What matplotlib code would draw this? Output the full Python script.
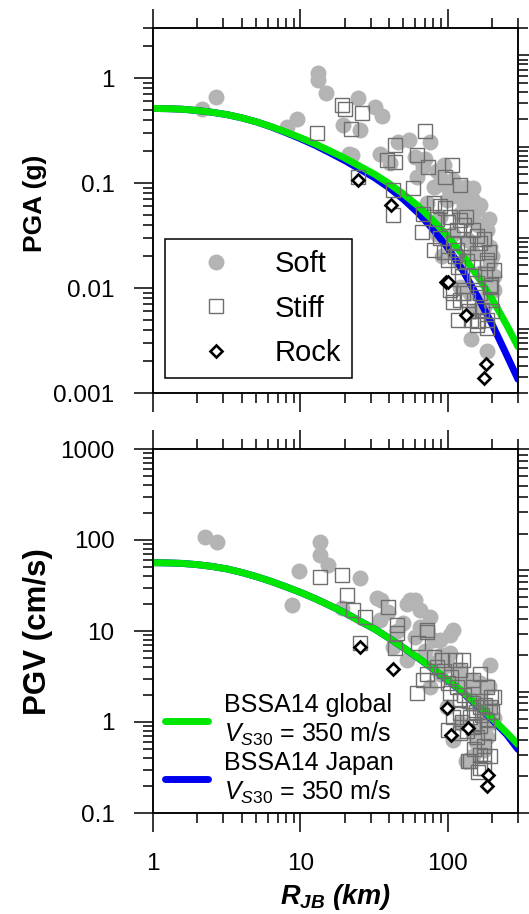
import numpy as np
import matplotlib
matplotlib.use("Agg")
import matplotlib.pyplot as plt
from matplotlib.ticker import LogLocator, NullFormatter

plt.rcParams["font.family"] = "Liberation Sans"
plt.rcParams["mathtext.fontset"] = "custom"
plt.rcParams["mathtext.rm"] = "Liberation Sans"
plt.rcParams["mathtext.it"] = "Liberation Sans:italic"
plt.rcParams["mathtext.bf"] = "Liberation Sans:bold"
try:
    plt.rcParams["mathtext.bfit"] = "Liberation Sans:italic:bold"
except KeyError:
    pass

# ---- model curves (BSSA14, Vs30 = 350 m/s) ----
R_CURVE = [1, 1.26, 1.58, 2, 2.5, 3.2, 4, 5, 6.3, 7.9, 10, 12.6, 15.8, 20, 25, 32, 40,
           50, 63, 79, 100, 126, 158, 200, 251, 300]
PGA_GLOBAL = [0.514, 0.511, 0.505, 0.491, 0.473, 0.448, 0.418, 0.384, 0.346, 0.308, 0.271,
              0.236, 0.203, 0.173, 0.146, 0.121, 0.0989, 0.0787, 0.0604, 0.0445, 0.0312,
              0.0208, 0.0132, 0.00787, 0.00446, 0.00276]
PGA_JAPAN = [0.514, 0.511, 0.505, 0.491, 0.473, 0.448, 0.418, 0.384, 0.344, 0.304, 0.265,
             0.229, 0.195, 0.164, 0.137, 0.112, 0.0902, 0.0701, 0.052, 0.0366, 0.0242,
             0.0149, 0.00849, 0.00453, 0.00231, 0.00135]
PGV_GLOBAL = [56.4, 56.0, 55.3, 53.6, 51.3, 48.0, 44.0, 39.7, 35.2, 30.8, 26.6, 22.7, 19.1,
              15.9, 13.0, 10.5, 8.34, 6.58, 5.08, 3.89, 2.92, 2.16, 1.56, 1.10, 0.766, 0.566]
PGV_JAPAN = [56.4, 56.0, 55.3, 53.6, 51.3, 48.0, 44.0, 39.7, 35.2, 30.8, 26.6, 22.7, 19.1,
             15.9, 13.0, 10.5, 8.34, 6.56, 5.05, 3.86, 2.88, 2.12, 1.52, 1.06, 0.73, 0.50]

# ---- recordings: PGA (g) ----
PGA_SOFT_R = [2.14, 2.66, 8.1, 9.45, 13.2, 13.2, 14.9, 19.6, 21.5, 22.3, 24.8, 25.4, 32.1,
              35.7, 34.8, 40.6, 46.3, 54.2, 60.1, 68.4, 75.9, 61.7, 72, 80.2, 88.8, 98.5,
              109, 109, 121, 121, 121, 131, 138, 142, 145, 149, 149, 157, 166, 175, 184,
              184, 194, 194, 198, 206, 149, 166, 121, 84.5, 92,
              70, 85, 95, 100, 115, 130, 140, 160, 175, 190, 200, 205, 180, 150, 90]
PGA_SOFT = [0.51, 0.66, 0.34, 0.41, 1.11, 0.96, 0.72, 0.36, 0.19, 0.185, 0.64, 0.32, 0.53,
            0.44, 0.19, 0.154, 0.247, 0.256, 0.178, 0.143, 0.247, 0.115, 0.064, 0.092, 0.048,
            0.069, 0.107, 0.033, 0.051, 0.0172, 0.0103, 0.092, 0.0287, 0.0089, 0.0033, 0.069,
            0.0214, 0.055, 0.0138, 0.0066, 0.0357, 0.0025, 0.0247, 0.0172, 0.0119, 0.0096,
            0.09, 0.062, 0.08, 0.033, 0.02,
            0.17, 0.13, 0.15, 0.09, 0.075, 0.06, 0.045, 0.04, 0.03, 0.045, 0.02, 0.013,
            0.008, 0.006, 0.11]
PGA_STIFF_R = [19.1, 20.1, 26.1, 12.9, 21.9, 70.1, 43.9, 38.7, 43.9, 61.7, 74, 106.7, 95.9,
               121, 24.8, 42.7, 42.7, 58.6, 80.2, 66.6, 80.2, 101, 121, 149, 175, 138, 109,
               184, 157, 118, 101, 194, 157, 104, 109, 138, 118, 145, 184, 170, 198, 128,
               104, 134, 157, 166, 184, 198, 115, 121, 157, 184, 109, 68, 89,
               88, 95, 112, 125, 135, 150, 165, 180, 190, 205, 140, 160, 200, 115, 130, 96,
               85]
PGA_STIFF = [0.55, 0.51, 0.47, 0.30, 0.33, 0.31, 0.23, 0.166, 0.16, 0.185, 0.143, 0.148,
             0.115, 0.096, 0.115, 0.086, 0.050, 0.089, 0.064, 0.034, 0.023, 0.043, 0.044,
             0.036, 0.029, 0.027, 0.027, 0.0185, 0.0214, 0.016, 0.0185, 0.0103, 0.0111,
             0.0096, 0.0074, 0.0077, 0.005, 0.005, 0.005, 0.0062, 0.0077, 0.0089,
             0.048, 0.048, 0.031, 0.027, 0.0172, 0.0107, 0.023, 0.0077, 0.0044, 0.0042,
             0.0089, 0.051, 0.060,
             0.03, 0.022, 0.02, 0.013, 0.018, 0.013, 0.009, 0.0135, 0.022, 0.015, 0.006,
             0.0048, 0.006, 0.036, 0.04, 0.058, 0.045]
PGA_ROCK_R = [24.8, 41.1, 97.9, 101, 134, 182, 177]
PGA_ROCK = [0.107, 0.062, 0.0115, 0.0115, 0.0055, 0.0019, 0.0014]

# ---- recordings: PGV (cm/s) ----
PGV_SOFT_R = [2.25, 2.73, 8.74, 9.85, 13.6, 13.6, 15.5, 25.4, 19.1, 33, 39.6, 52.7, 60.1,
              75.9, 65.3, 80.2, 109, 194, 50, 34.8, 42.7, 52.7, 104, 121, 149, 166, 194,
              194, 184, 149, 134, 88.8, 75.9, 98.5, 121, 149, 109, 175, 72, 104, 166, 80,
              65, 55.5, 35, 89,
              90, 100, 115, 130, 145, 160, 175, 190, 205, 170, 155, 60, 45, 70]
PGV_SOFT = [109, 96, 19.3, 46, 96, 68, 53, 38, 17.8, 23, 16.3, 20, 22, 14.4, 11.1, 8.0,
            10.3, 4.2, 12.1, 13.2, 6.7, 4.8, 5.7, 3.7, 2.9, 2.07, 1.47, 0.97, 0.69, 0.42,
            0.37, 3.4, 2.44, 1.47, 0.97, 0.75, 0.63, 0.49, 10.3, 9.0, 2.66, 4.4, 17, 21.9,
            21.9, 8.0,
            5.5, 4.2, 3.0, 2.6, 2.0, 1.6, 1.2, 2.5, 1.1, 0.85, 0.6, 8.5, 10, 6]
PGV_STIFF_R = [13.5, 19.1, 20.6, 22.9, 27.4, 25.4, 39.6, 45, 45, 43.9, 63.1, 72, 80.2, 91,
               112, 121, 72, 84.5, 101, 68.4, 61.7, 206, 194, 149, 121, 104, 142, 184, 109,
               101, 121, 157, 189, 138, 166, 194, 166, 149, 166, 72, 128, 149, 184, 198,
               166, 121, 149, 175, 142, 175, 161,
               85, 95, 105, 115, 130, 140, 155, 170, 180, 200, 125, 135, 150, 165, 175, 150]
PGV_STIFF = [39.5, 41, 25, 17, 14.4, 7.3, 18.5, 11.6, 9.4, 6.45, 7.3, 10.3, 5.2, 4.8, 4.8,
             3.7, 3.4, 2.9, 2.66, 2.9, 2.07, 1.9, 1.47, 1.6, 1.75, 2.07, 1.14, 1.05, 1.14,
             0.82, 0.75, 0.69, 0.75, 0.37, 0.43, 0.42, 0.31, 2.44, 3.4, 9.8, 4.8, 2.9, 2.44,
             1.9, 1.47, 1.25, 0.89, 0.42, 0.37, 0.31, 0.28,
             4.0, 3.6, 3.1, 2.4, 2.0, 1.7, 1.3, 1.2, 1.55, 1.3, 1.0, 0.8, 0.95, 0.9, 0.55,
             0.5]
PGV_ROCK_R = [25.4, 42.5, 98.5, 105.6, 138, 188, 184]
PGV_ROCK = [6.6, 3.8, 1.44, 0.72, 0.87, 0.26, 0.20]

SOFT_C = "#b4b4b4"
STIFF_C = "#6e6e6e"
GREEN = "#00e600"
BLUE = "#0000f0"
TICK_FS = 17.5


def style_axis(ax, ylim, yticks, ylabels, show_x):
    ax.set_xscale("log")
    ax.set_yscale("log")
    ax.set_xlim(1, 300)
    ax.set_ylim(*ylim)
    ax.set_xticks([1, 10, 100], ["1", "10", "100"] if show_x else ["", "", ""])
    ax.xaxis.set_minor_locator(LogLocator(base=10, subs=np.arange(2, 10)))
    ax.xaxis.set_minor_formatter(NullFormatter())
    ax.set_yticks(yticks, ylabels)
    ax.yaxis.set_minor_locator(LogLocator(base=10, subs=np.arange(2, 10), numticks=20))
    ax.yaxis.set_minor_formatter(NullFormatter())
    ax.tick_params(which="both", direction="out", top=True, right=False, width=1.1,
                   labelsize=TICK_FS)
    ax.tick_params(which="major", length=13.7)
    ax.tick_params(which="minor", length=7.2)
    ax.tick_params(axis="x", pad=15)
    ax.tick_params(axis="y", pad=14)
    for s in ax.spines.values():
        s.set_linewidth(1.1)
    # extra right-hand tick scale that shows in the original
    tw = ax.twinx()
    tw.set_yscale("log")
    return tw


def draw_data(ax, rs, vs, rst, vst, rr, vr):
    ax.plot(rs, vs, ls="none", marker="o", ms=11.5, mfc=SOFT_C, mec="none", zorder=2,
            label="Soft")
    ax.plot(rst, vst, ls="none", marker="s", ms=10.5, mfc="none", mec=STIFF_C, mew=1.0,
            zorder=5, label="Stiff")
    ax.plot(rr, vr, ls="none", marker="D", ms=6, mfc="white", mec="black", mew=1.9,
            zorder=6, label="Rock")


fig = plt.figure(figsize=(5.29, 9.14), dpi=100)
ax1 = fig.add_axes([153 / 529, 1 - 393 / 914, 365 / 529, 365 / 914])
ax2 = fig.add_axes([153 / 529, 1 - 813 / 914, 365 / 529, 364 / 914])

# ---- PGA panel ----
draw_data(ax1, PGA_SOFT_R, PGA_SOFT, PGA_STIFF_R, PGA_STIFF, PGA_ROCK_R, PGA_ROCK)
ax1.plot(R_CURVE, PGA_JAPAN, color=BLUE, lw=5, solid_capstyle="round", zorder=3)
ax1.plot(R_CURVE, PGA_GLOBAL, color=GREEN, lw=5, solid_capstyle="round", zorder=4)
tw1 = style_axis(ax1, (0.001, 3), [0.001, 0.01, 0.1, 1], ["0.001", "0.01", "0.1", "1"], False)
tw1.set_ylim(0.2, 2000)
ax1.set_ylabel("PGA (g)", fontsize=19, fontweight="bold")
ax1.yaxis.set_label_coords(-0.29, 0.52)
leg1 = ax1.legend(loc="lower left", bbox_to_anchor=(0.033, 0.041), borderaxespad=0,
                  fontsize=21, handlelength=2.7, handletextpad=0.69, borderpad=0.38,
                  labelspacing=0.56, fancybox=False, edgecolor="black", framealpha=1,
                  numpoints=1)
leg1.get_frame().set_linewidth(1.1)

# ---- PGV panel ----
draw_data(ax2, PGV_SOFT_R, PGV_SOFT, PGV_STIFF_R, PGV_STIFF, PGV_ROCK_R, PGV_ROCK)
lj, = ax2.plot(R_CURVE, PGV_JAPAN, color=BLUE, lw=5, solid_capstyle="round", zorder=3)
lg, = ax2.plot(R_CURVE, PGV_GLOBAL, color=GREEN, lw=5, solid_capstyle="round", zorder=4)
tw2 = style_axis(ax2, (0.1, 1000), [0.1, 1, 10, 100, 1000],
                 ["0.1", "1", "10", "100", "1000"], True)
tw2.set_ylim(1, 1000)
ax2.set_ylabel("PGV (cm/s)", fontsize=22.5, fontweight="bold")
ax2.yaxis.set_label_coords(-0.275, 0.497)
ax2.set_xlabel(r"$\mathbfit{R}_{\mathbfit{JB}}$ (km)", fontsize=19.5, fontweight="bold",
               fontstyle="italic")
ax2.xaxis.set_label_coords(0.5, -0.19)
vs30 = r"$\mathit{V}_{\mathit{S30}}$ = 350 m/s"
ax2.legend([lg, lj], ["BSSA14 global\n" + vs30, "BSSA14 Japan\n" + vs30],
           loc="lower left", bbox_to_anchor=(0.033, 0.018), borderaxespad=0, fontsize=18,
           handlelength=1.7, handletextpad=0.65, borderpad=0, labelspacing=0.12,
           frameon=False)

for tw in (tw1, tw2):
    tw.yaxis.set_minor_locator(LogLocator(base=10, subs=np.arange(2, 10), numticks=20))
    tw.yaxis.set_major_formatter(NullFormatter())
    tw.yaxis.set_minor_formatter(NullFormatter())
    tw.tick_params(which="both", direction="out", width=1.1)
    tw.tick_params(which="major", length=9)
    tw.tick_params(which="minor", length=7.2)
    for s in tw.spines.values():
        s.set_linewidth(1.1)

fig.savefig("out.png", dpi=100)
